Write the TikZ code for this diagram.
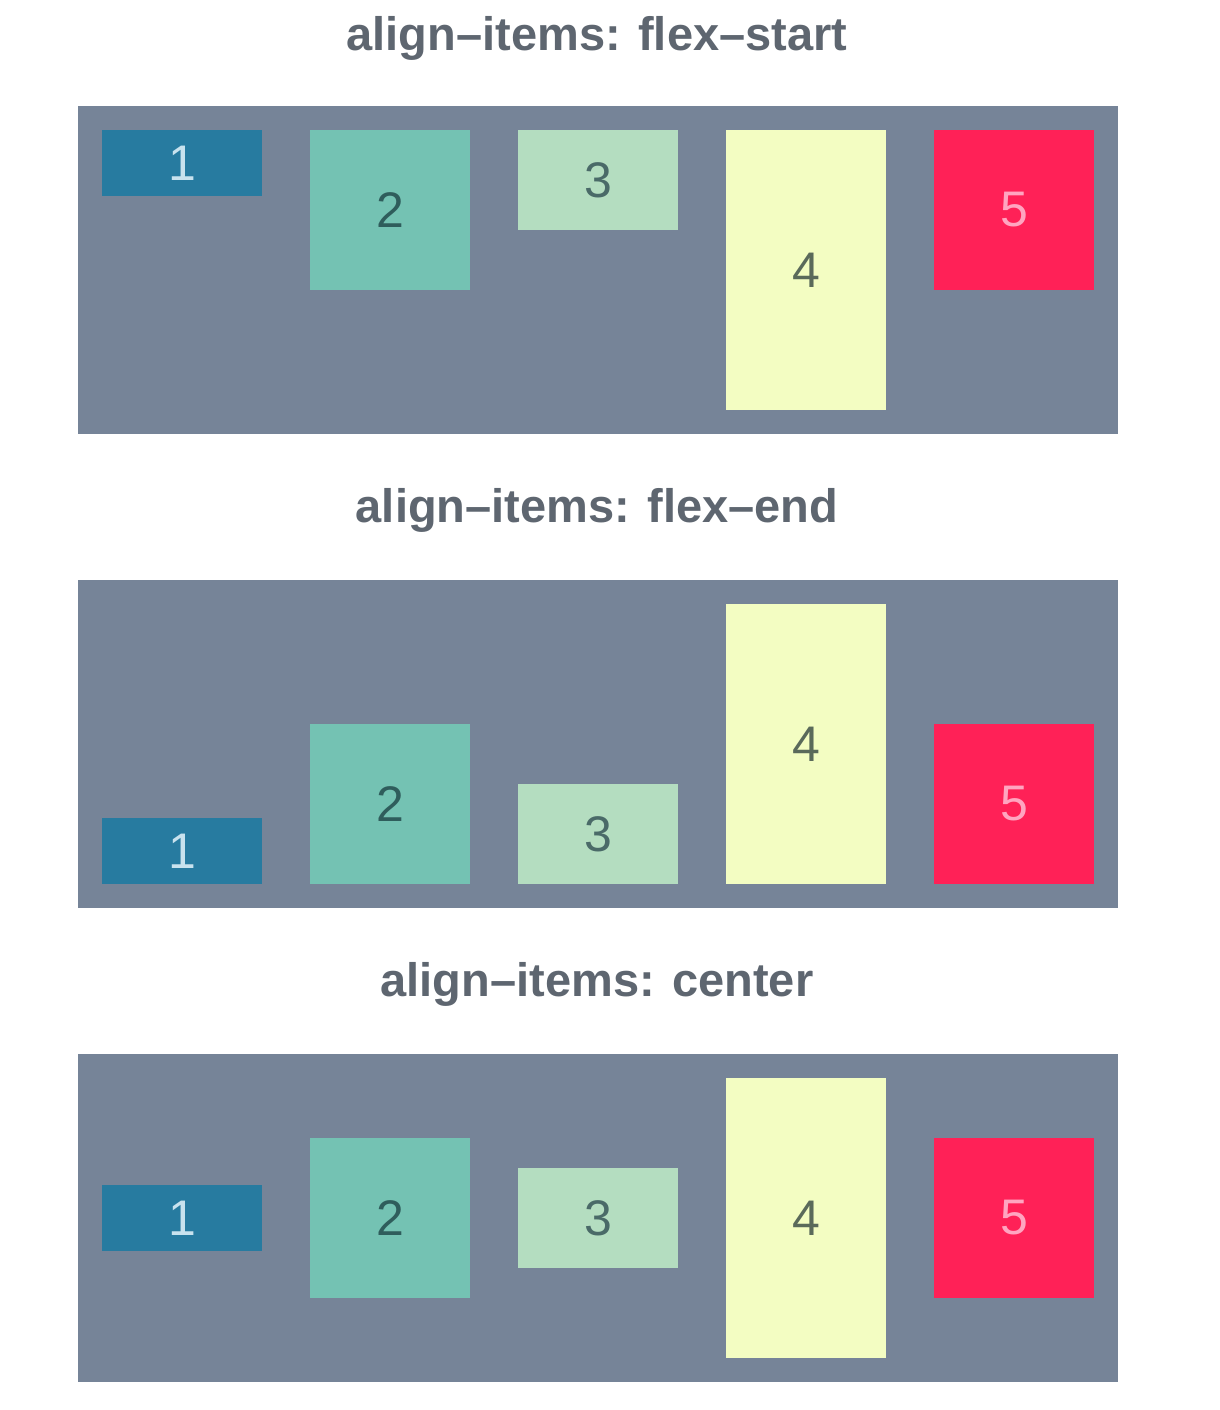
\documentclass[tikz,border=0pt]{standalone}
\usepackage{fontspec}
\setmainfont{Liberation Sans}
\usepackage{tikz}
\usetikzlibrary{positioning}
\definecolor{cbg}{HTML}{768498}
\definecolor{chdr}{HTML}{5E6670}
\definecolor{cone}{HTML}{277BA0}
\definecolor{ctwo}{HTML}{74C2B3}
\definecolor{cthree}{HTML}{B4DDC0}
\definecolor{cfour}{HTML}{F3FDC2}
\definecolor{cfive}{HTML}{FF2157}
\definecolor{tone}{HTML}{C8E2EE}
\definecolor{ttwo}{HTML}{2F5D5C}
\definecolor{tthree}{HTML}{4A6A68}
\definecolor{tfour}{HTML}{5A6A5A}
\definecolor{tfive}{HTML}{FFA5C0}
\tikzset{
  panel/.style={rectangle, fill=cbg, inner sep=0pt, outer sep=0pt,
                minimum width=1040pt, minimum height=328pt},
  hdr/.style={font=\fontsize{47}{54}\selectfont\bfseries, text=chdr, inner sep=0pt},
  item/.style={rectangle, inner sep=0pt, outer sep=0pt, minimum width=160pt,
               font=\fontsize{50}{56}\selectfont},
  one/.style={item, fill=cone, text=tone, minimum height=66pt},
  two/.style={item, fill=ctwo, text=ttwo, minimum height=160pt},
  three/.style={item, fill=cthree, text=tthree, minimum height=100pt},
  four/.style={item, fill=cfour, text=tfour, minimum height=280pt},
  five/.style={item, fill=cfive, text=tfive, minimum height=160pt}
}

\begin{document}
\begin{tikzpicture}[x=1pt, y=-1pt]
\useasboundingbox[fill=white] (0,0) rectangle (1220,1410);
% flex-start
\node[hdr] (ha) at (597,38) {align–items: flex–start};
\node[panel] (pa) at (598,270) {};
\node[one]   (a1) at (182,163) {1};
\node[two]   (a2) at (390,210) {2};
\node[three] (a3) at (598,180) {3};
\node[four]  (a4) at (806,270) {4};
\node[five]  (a5) at (1014,210) {5};
% flex-end
\node[hdr] (hb) at (597,510) {align–items: flex–end};
\node[panel] (pb) at (598,744) {};
\node[one]   (b1) at (182,851) {1};
\node[two]   (b2) at (390,804) {2};
\node[three] (b3) at (598,834) {3};
\node[four]  (b4) at (806,744) {4};
\node[five]  (b5) at (1014,804) {5};
% center
\node[hdr] (hc) at (597,984) {align–items: center};
\node[panel] (pc) at (598,1218) {};
\node[one]   (c1) at (182,1218) {1};
\node[two]   (c2) at (390,1218) {2};
\node[three] (c3) at (598,1218) {3};
\node[four]  (c4) at (806,1218) {4};
\node[five]  (c5) at (1014,1218) {5};
\end{tikzpicture}
\end{document}
